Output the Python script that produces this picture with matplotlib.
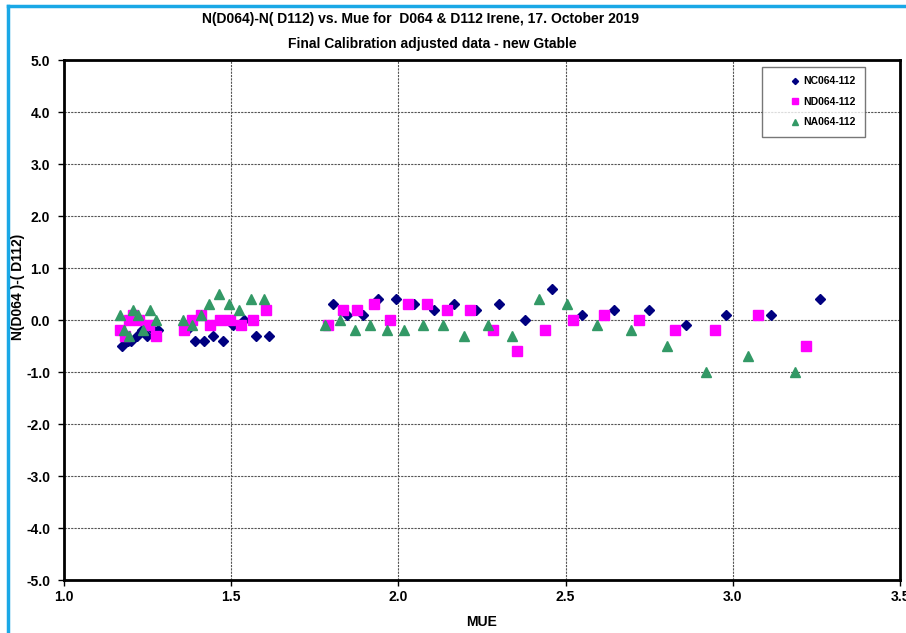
import matplotlib
matplotlib.use("Agg")
import matplotlib.pyplot as plt
from matplotlib.lines import Line2D
from matplotlib.ticker import MultipleLocator, FormatStrFormatter

plt.rcParams['font.family'] = ['Liberation Sans', 'DejaVu Sans']

# NC064-112 (navy diamonds)
nc_mue = [1.174, 1.19, 1.20, 1.217, 1.232, 1.247, 1.265, 1.282, 1.369, 1.392,
          1.42, 1.447, 1.476, 1.506, 1.538, 1.574, 1.614,
          1.805, 1.847, 1.893, 1.94, 1.992, 2.047, 2.105, 2.166, 2.231, 2.30,
          2.379, 2.46, 2.55, 2.645, 2.75, 2.86, 2.98, 3.114, 3.26]
nc_val = [-0.5, -0.4, -0.4, -0.3, -0.2, -0.3, -0.2, -0.2, -0.2, -0.4,
          -0.4, -0.3, -0.4, -0.1, 0.0, -0.3, -0.3,
          0.3, 0.1, 0.1, 0.4, 0.4, 0.3, 0.2, 0.3, 0.2, 0.3,
          0.0, 0.6, 0.1, 0.2, 0.2, -0.1, 0.1, 0.1, 0.4]

# ND064-112 (magenta squares)
nd_mue = [1.167, 1.182, 1.194, 1.207, 1.225, 1.255, 1.275,
          1.36, 1.384, 1.41, 1.437, 1.466, 1.497, 1.529, 1.566, 1.603,
          1.79, 1.833, 1.877, 1.927, 1.975, 2.03, 2.086, 2.146, 2.214, 2.284,
          2.356, 2.438, 2.523, 2.616, 2.72, 2.827, 2.947, 3.076, 3.218]
nd_val = [-0.2, -0.3, 0.0, 0.1, 0.0, -0.1, -0.3,
          -0.2, 0.0, 0.1, -0.1, 0.0, 0.0, -0.1, 0.0, 0.2,
          -0.1, 0.2, 0.2, 0.3, 0.0, 0.3, 0.3, 0.2, 0.2, -0.2,
          -0.6, -0.2, 0.0, 0.1, 0.0, -0.2, -0.2, 0.1, -0.5]

# NA064-112 (green triangles)
na_mue = [1.167, 1.18, 1.195, 1.207, 1.222, 1.237, 1.257, 1.275,
          1.357, 1.382, 1.409, 1.435, 1.464, 1.494, 1.524, 1.559, 1.599,
          1.78, 1.825, 1.87, 1.915, 1.965, 2.017, 2.075, 2.132, 2.196, 2.267,
          2.339, 2.42, 2.505, 2.595, 2.695, 2.802, 2.919, 3.045, 3.186]
na_val = [0.1, -0.2, -0.3, 0.2, 0.1, -0.2, 0.2, 0.0,
          0.0, -0.1, 0.1, 0.3, 0.5, 0.3, 0.2, 0.4, 0.4,
          -0.1, 0.0, -0.2, -0.1, -0.2, -0.2, -0.1, -0.1, -0.3, -0.1,
          -0.3, 0.4, 0.3, -0.1, -0.2, -0.5, -1.0, -0.7, -1.0]

W, H = 906, 633
fig = plt.figure(figsize=(W / 100, H / 100), dpi=100)
ax = fig.add_axes([64 / W, 1 - 580 / H, (900 - 64) / W, (580 - 60) / H])

ax.plot(nc_mue, nc_val, 'D', color='#000080', markersize=5.2, linestyle='none',
        label='NC064-112')
ax.plot(nd_mue, nd_val, 's', color='#FF00FF', markersize=6.5, linestyle='none',
        label='ND064-112')
ax.plot(na_mue, na_val, '^', color='#339966', markersize=6.5, linestyle='none',
        label='NA064-112')

ax.set_xlim(1.0, 3.5)
ax.set_ylim(-5.0, 5.0)
ax.xaxis.set_major_locator(MultipleLocator(0.5))
ax.yaxis.set_major_locator(MultipleLocator(1.0))
ax.xaxis.set_major_formatter(FormatStrFormatter('%.1f'))
ax.yaxis.set_major_formatter(FormatStrFormatter('%.1f'))
ax.grid(True, color='#555555', linestyle=(0, (2, 1)), linewidth=0.8)
ax.set_axisbelow(True)
for s in ax.spines.values():
    s.set_linewidth(2)
ax.tick_params(direction='out', length=4, width=1, labelsize=10)
ax.tick_params(axis='x', pad=3)
ax.tick_params(axis='y', pad=6)
for lab in ax.get_xticklabels() + ax.get_yticklabels():
    lab.set_fontweight('bold')

fig.text(482 / W, 1 - 622 / H, 'MUE', ha='center', va='center',
         fontsize=10, fontweight='bold')
fig.text(18 / W, 1 - 287 / H, 'N(D064 )-( D112)', rotation=90, ha='center',
         va='center', fontsize=10, fontweight='bold')

fig.text(420 / W, 1 - 19 / H, 'N(D064)-N( D112) vs. Mue for  D064 & D112 Irene, 17. October 2019',
         ha='center', va='center', fontsize=10, fontweight='bold')
fig.text(432 / W, 1 - 44 / H, 'Final Calibration adjusted data - new Gtable',
         ha='center', va='center', fontsize=10, fontweight='bold')

# legend box roughly 757..865 px wide, marker close to the text
leg = ax.legend(loc='upper right', bbox_to_anchor=((865 - 64) / (900 - 64), (580 - 67) / (580 - 60)),
                fontsize=7.5, frameon=True, fancybox=False, borderpad=0.9,
                labelspacing=1.0, handlelength=4.6, handletextpad=-1.5,
                markerscale=0.6, borderaxespad=0)
leg.get_frame().set_edgecolor('#555555')
leg.get_frame().set_linewidth(1)
for t in leg.get_texts():
    t.set_fontweight('bold')

# chart area border (light blue, left and top)
fig.add_artist(Line2D([8 / W, 8 / W], [0, 1 - 6 / H], color='#1AA8E6', linewidth=2.5))
fig.add_artist(Line2D([8 / W, 1], [1 - 6 / H, 1 - 6 / H], color='#1AA8E6', linewidth=2.5))

fig.savefig('out.png', dpi=100)
